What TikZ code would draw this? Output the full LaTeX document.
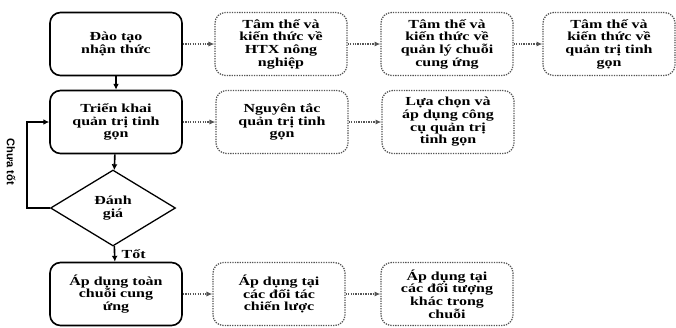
\documentclass[tikz,border=0pt]{standalone}
\usepackage{fontspec}
\setmainfont[FakeStretch=1.3]{Liberation Serif}
\newfontfamily\sidefont{Liberation Sans}
\usepackage{tikz}
\usetikzlibrary{shapes.geometric,arrows.meta}
\definecolor{dot_gray}{HTML}{555555}

\begin{document}
\begin{tikzpicture}[x=0.03cm,y=-0.03cm,
        mainbox/.style={draw, line width=1.4pt, rounded corners=9pt, minimum width=3.96cm, minimum height=1.89cm, align=center, font=\fontsize{10.5}{10.8}\selectfont\bfseries},
        subbox/.style={draw=dot_gray, densely dotted, line width=1.1pt, rounded corners=9pt, minimum width=3.96cm, minimum height=1.89cm, align=center, font=\fontsize{10.5}{10.8}\selectfont\bfseries},
        decide/.style={draw, line width=1.1pt, diamond, minimum width=3.75cm, minimum height=2.28cm, inner sep=0pt, align=center, font=\fontsize{10.5}{10.8}\selectfont\bfseries},
        flow/.style={-{Latex[length=5pt,width=5pt]}, line width=1.4pt},
        hint/.style={-{Latex[length=5pt,width=4.5pt]}, dot_gray, densely dotted, line width=1.1pt}]
        \useasboundingbox (0,0) rectangle (676,327);
        % Main steps
        \node[mainbox] (train) at (116,44) {Đào tạo\\nhận thức};
        \node[mainbox] (deploy) at (116,122) {Triển khai\\quản trị tinh\\gọn};
        \node[decide] (eval) at (113,208) {Đánh\\giá};
        \node[mainbox] (apply) at (116,294) {Áp dụng toàn\\chuỗi cung\\ứng};
        % Sub steps
        \node[subbox] (htx) at (281,44) {Tâm thế và\\kiến thức về\\HTX nông\\nghiệp};
        \node[subbox] (chain) at (447,44) {Tâm thế và\\kiến thức về\\quản lý chuỗi\\cung ứng};
        \node[subbox] (lean) at (609,44) {Tâm thế và\\kiến thức về\\quản trị tinh\\gọn};
        \node[subbox] (rule) at (282,122) {Nguyên tắc\\quản trị tinh\\gọn};
        \node[subbox] (tool) at (448,122) {Lựa chọn và\\áp dụng công\\cụ quản trị\\tinh gọn};
        \node[subbox] (partner) at (279,294) {Áp dụng tại\\các đối tác\\chiến lược};
        \node[subbox] (other) at (447,294) {Áp dụng tại\\các đối tượng\\khác trong\\chuỗi};
        % Flow
        \draw[flow] (train) -- (deploy);
        \draw[flow] (deploy) -- (eval);
        \draw[flow] (eval) -- (apply) node[midway, right, xshift=2pt, font=\fontsize{10.5}{10.8}\selectfont\bfseries] (good) {Tốt};
        \coordinate (back) at (27,208);
        \draw[line width=1.1pt, -{Latex[length=5pt,width=5pt]}] (eval.west) -- (back) |- (deploy.west);
        \node[rotate=-90, font=\sidefont\fontsize{9.5}{10}\selectfont\bfseries] (notgood) at (11,162) {Chưa tốt};
        % Dotted links
        \draw[hint] (train) -- (htx);
        \draw[hint] (htx) -- (chain);
        \draw[hint] (chain) -- (lean);
        \draw[hint] (deploy) -- (rule);
        \draw[hint] (rule) -- (tool);
        \draw[hint] (apply) -- (partner);
        \draw[hint] (partner) -- (other);
    \end{tikzpicture}
\end{document}
